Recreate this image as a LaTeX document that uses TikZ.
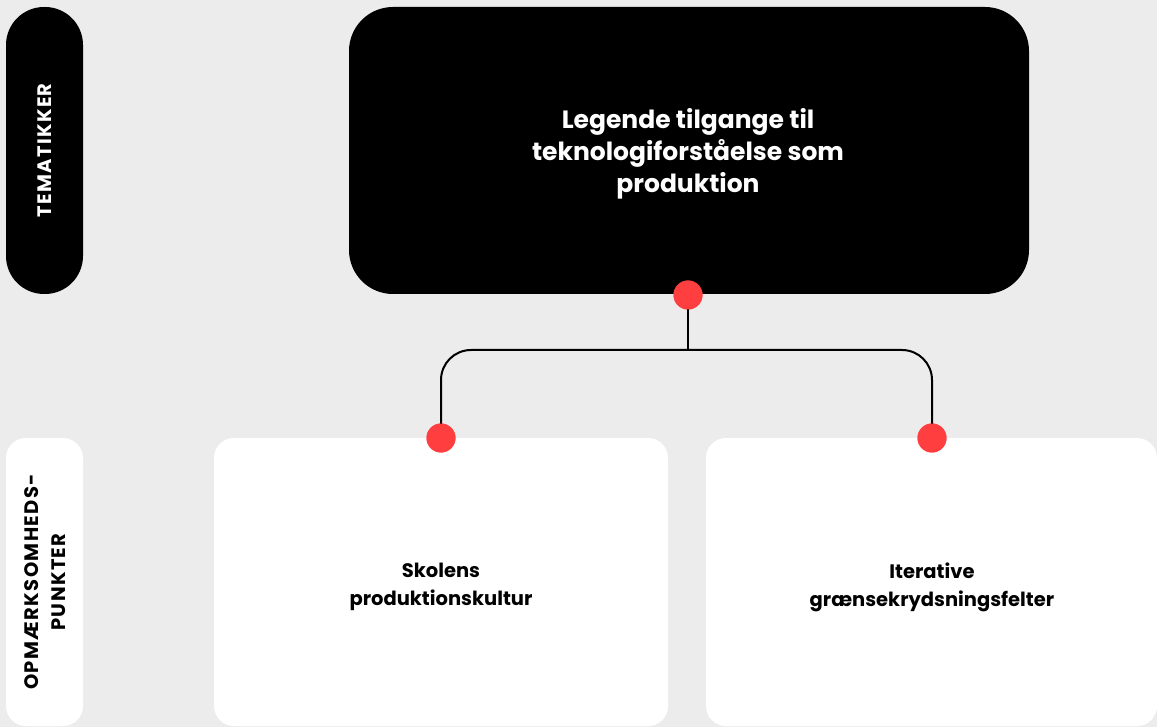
\documentclass[tikz,border=0pt]{standalone}
\usepackage{fontspec}
\setmainfont{Poppins}
\newfontfamily\labelfont[LetterSpace=7]{Poppins}
\definecolor{canvas}{HTML}{ECECEC}
\definecolor{dotred}{HTML}{FF3F3F}
\begin{document}
\begin{tikzpicture}[x=1pt,y=-1pt,
  rowlabel/.style={rounded corners=20pt, inner sep=0pt},
  labeltext/.style={rotate=90, align=center,
    font=\labelfont\bfseries\fontsize{19.5}{27}\selectfont},
  themebox/.style={fill=black, rounded corners=44pt, inner sep=0pt},
  focusbox/.style={fill=white, rounded corners=20pt, inner sep=0pt},
  titletext/.style={text=white, align=center,
    font=\bfseries\fontsize{25}{32}\selectfont},
  focustext/.style={text=black, align=center,
    font=\bfseries\fontsize{19.5}{28}\selectfont},
  dot/.style={circle, fill=dotred, minimum size=29pt, inner sep=0pt},
  wire/.style={draw=black, line width=2pt}]
  \fill[canvas] (0,0) rectangle (1157,727);
  \useasboundingbox (0,0) rectangle (1157,727);

  % row labels on the left
  \node[rowlabel, fill=black, rounded corners=38pt,
    minimum width=77pt, minimum height=287pt] (lab1) at (44.5,150.5) {};
  \node[labeltext, text=white] at (lab1.center) {TEMATIKKER};
  \node[rowlabel, fill=white, minimum width=77pt, minimum height=288pt]
    (lab2) at (44.5,582) {};
  \node[labeltext, text=black] at ([xshift=1pt]lab2.center)
    {OPMÆRKSOMHEDS-\\PUNKTER};

  % theme box
  \node[themebox, minimum width=680pt, minimum height=287pt] (theme)
    at (689,150.5) {};
  \node[titletext] at (688,154)
    {Legende tilgange til\\teknologiforståelse som\\produktion};

  % focus boxes
  \node[focusbox, minimum width=454pt, minimum height=288pt] (left)
    at (441,582) {};
  \node[focusbox, minimum width=451pt, minimum height=288pt] (right)
    at (931.5,582) {};
  \node[focustext] at (441,587) {Skolens\\produktionskultur};
  \node[focustext] at (932,587) {Iterative\\grænsekrydsningsfelter};

  % connection dots
  \coordinate (join) at (688,350);
  \node[dot] (dtop) at (688,295) {};
  \node[dot] (dleft) at (441,438) {};
  \node[dot] (dright) at (932,438) {};

  % connectors, then the dots again on top of them
  \draw[wire] (dtop.center) -- (join);
  \draw[wire, rounded corners=30pt] (dleft.center) |- (join) -| (dright.center);
  \node[dot] at (dtop.center) {};
  \node[dot] at (dleft.center) {};
  \node[dot] at (dright.center) {};
\end{tikzpicture}
\end{document}
